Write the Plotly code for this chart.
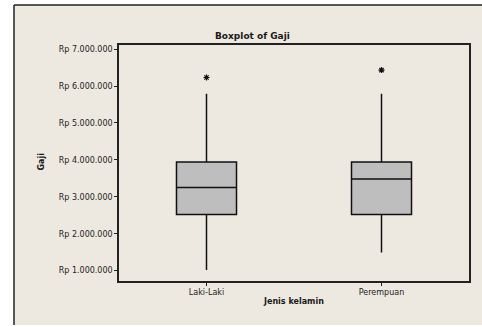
import plotly.graph_objects as go

# Salary summary by gender (Rupiah)
categories = ["Laki-Laki", "Perempuan"]
q1_vals = [2520000, 2520000]
median_vals = [3250000, 3480000]
q3_vals = [3940000, 3940000]
lower_whisker = [1020000, 1490000]
upper_whisker = [5790000, 5790000]
outlier_vals = [6230000, 6430000]

tick_vals = [1000000, 2000000, 3000000, 4000000, 5000000, 6000000, 7000000]
tick_text = ["Rp 1.000.000", "Rp 2.000.000", "Rp 3.000.000", "Rp 4.000.000",
             "Rp 5.000.000", "Rp 6.000.000", "Rp 7.000.000"]

W, H = 482, 327
L, R, T, B = 119, 13, 45, 46
pw, ph = W - L - R, H - T - B


def px_x(p):
    return (p - L) / pw


def px_y(p):
    return (H - B - p) / ph


FONT = "DejaVu Sans"
fig = go.Figure()

fig.add_trace(go.Box(
    x=categories,
    q1=q1_vals, median=median_vals, q3=q3_vals,
    lowerfence=lower_whisker, upperfence=upper_whisker,
    boxpoints=False,
    width=0.343,
    whiskerwidth=0,
    fillcolor="#bebebe",
    line=dict(color="#111111", width=1.5),
    showlegend=False,
    hoverinfo="skip",
))

fig.add_trace(go.Scatter(
    x=categories, y=outlier_vals,
    mode="markers",
    marker=dict(symbol="asterisk-open", size=5, color="#111111",
                line=dict(color="#111111", width=1.2)),
    showlegend=False,
    hoverinfo="skip",
))

# beige chart frame with dark left/top edge
fig.add_shape(type="rect", xref="paper", yref="paper", layer="below",
              x0=px_x(14), x1=px_x(495), y0=px_y(325), y1=px_y(5),
              fillcolor="#eee9e0", line=dict(width=0))
fig.add_shape(type="line", xref="paper", yref="paper", layer="below",
              x0=px_x(14), x1=px_x(14), y0=px_y(325), y1=px_y(5),
              line=dict(color="#222222", width=1.5))
fig.add_shape(type="line", xref="paper", yref="paper", layer="below",
              x0=px_x(14), x1=px_x(495), y0=px_y(5), y1=px_y(5),
              line=dict(color="#222222", width=1.5))

fig.add_annotation(text="<b>Boxplot of Gaji</b>", xref="paper", yref="paper",
                   x=px_x(252), y=px_y(29), showarrow=False,
                   font=dict(family=FONT, size=9, color="#1a1a1a"))
fig.add_annotation(text="<b>Jenis kelamin</b>", xref="paper", yref="paper",
                   x=px_x(293), y=px_y(308), showarrow=False,
                   font=dict(family=FONT, size=8, color="#1a1a1a"))
fig.add_annotation(text="<b>Gaji</b>", xref="paper", yref="paper",
                   x=px_x(34), y=px_y(162), showarrow=False, textangle=-90,
                   font=dict(family=FONT, size=8, color="#1a1a1a"))

fig.update_layout(
    width=W, height=H,
    margin=dict(l=L, r=R, t=T, b=B),
    paper_bgcolor="white",
    plot_bgcolor="white",
    font=dict(family=FONT, size=8, color="#222222"),
)
fig.update_xaxes(
    range=[-0.5, 1.5], showgrid=False, zeroline=False,
    showline=True, mirror=True, linecolor="#222222", linewidth=1.5,
    ticks="outside", ticklen=3, tickcolor="#222222",
    tickfont=dict(family=FONT, size=8, color="#222222"),
)
fig.update_yaxes(
    range=[720000, 7110000], showgrid=False, zeroline=False,
    showline=True, mirror=True, linecolor="#222222", linewidth=1.5,
    ticks="outside", ticklen=3, tickcolor="#222222",
    tickvals=tick_vals, ticktext=tick_text,
    tickfont=dict(family=FONT, size=8, color="#222222"),
)

fig.write_html("out.html")
